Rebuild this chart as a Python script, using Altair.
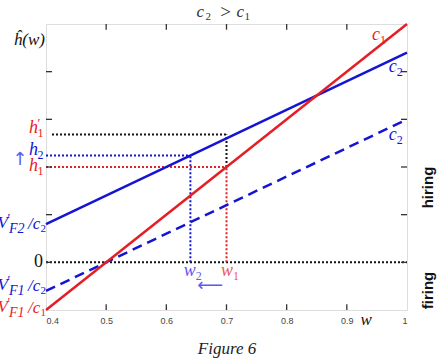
import altair as alt
import pandas as pd

# ---- data ----
w_ends = [0.4, 1.0]
c1_h = [-1.0, 5.0]          # red, cost c1
c2_h = [0.8, 4.4]           # blue solid, cost c2
c2_dash_h = [-0.6, 3.0]     # blue dashed, cost c2

w1, w2 = 0.70, 0.64
h1, h2, h1p = 2.0, 2.24, 2.68

x_ticks = [0.4, 0.5, 0.6, 0.7, 0.8, 0.9, 1.0]
inner_x_ticks = [0.5, 0.6, 0.7, 0.8, 0.9]
inner_y_ticks = [0, 1, 2, 3, 4]

RED = "#e51e25"
BLUE = "#1414d2"
LBLUE = "#5c5cf0"
LRED = "#f05a5a"
BLACK = "#111111"
SERIF = "Liberation Serif"
SANS = "Liberation Sans"

XS = alt.Scale(domain=[0.4, 1.0], nice=False, zero=False)
YS = alt.Scale(domain=[-1, 5], nice=False, zero=False)
XAX = alt.Axis(values=x_ticks, format="~g", domain=False, ticks=False, grid=False,
               labelFont=SANS, labelFontSize=9, labelColor="#444",
               labelPadding=6, title="Figure 6", titleFont=SERIF,
               titleFontStyle="italic", titleFontWeight="normal", titleFontSize=17,
               titleColor="#222", titlePadding=15)


def X(f):
    return alt.X(f, type="quantitative", scale=XS, axis=XAX)


def Y(f):
    return alt.Y(f, type="quantitative", scale=YS, axis=None)


def line(vals, color, dash=None):
    df = pd.DataFrame({"w": w_ends, "h": vals})
    kw = dict(color=color, strokeWidth=2.5)
    if dash:
        kw["strokeDash"] = dash
    return alt.Chart(df).mark_line(**kw).encode(x=X("w"), y=Y("h"))


def txt(texts, xs, ys, colors, dx=0, dy=0, size=16, align="left", italic=True,
        font=SERIF, angle=None, weight="normal"):
    df = pd.DataFrame({"t": texts, "x": xs, "y": ys, "c": colors})
    kw = dict(align=align, baseline="middle", dx=dx, dy=dy, fontSize=size, font=font,
              fontStyle="italic" if italic else "normal", fontWeight=weight)
    if angle is not None:
        kw["angle"] = angle
    return alt.Chart(df).mark_text(**kw).encode(
        x=X("x"), y=Y("y"), text="t:N", color=alt.Color("c:N", scale=None))


# dotted guide lines
guides = pd.DataFrame({
    "x":  [0.4, 0.41, w1, 0.4, w2, 0.4, w1],
    "x2": [1.0, w1, w1, w2, w2, w1, w1],
    "y":  [0, h1p, h1, h2, 0, h1, 0],
    "y2": [0, h1p, h1p, h2, h2, h1, h1],
    "c":  [BLACK, BLACK, BLACK, BLUE, BLUE, RED, RED],
})
guide_layer = alt.Chart(guides).mark_rule(strokeWidth=2, strokeDash=[2, 2]).encode(
    x=X("x"), x2="x2:Q", y=Y("y"), y2="y2:Q", color=alt.Color("c:N", scale=None))

# inner ticks on the frame
tk = []
for t in inner_x_ticks:
    tk.append((t, t, -1, -0.88))
    tk.append((t, t, 5, 4.88))
for t in inner_y_ticks:
    tk.append((0.4, 0.41, t, t))
    tk.append((1.0, 0.99, t, t))
ticks = pd.DataFrame(tk, columns=["x", "x2", "y", "y2"])
tick_layer = alt.Chart(ticks).mark_rule(color="#333", strokeWidth=1.3).encode(
    x=X("x"), x2="x2:Q", y=Y("y"), y2="y2:Q")

layers = [guide_layer,
          line(c2_dash_h, BLUE, [10, 6]),
          line(c2_h, BLUE),
          line(c1_h, RED),
          tick_layer]

# ---- title  c2 > c1 (above the plot, centred at w = 0.7) ----
title_x, title_y = 0.7, 5.0
TC = "#333333"
layers += [
    txt(["c"], [title_x], [title_y], [TC], dx=-30, dy=-12, size=17),
    txt(["2"], [title_x], [title_y], [TC], dx=-21, dy=-7, size=11, italic=False),
    txt([">"], [title_x], [title_y], [TC], dx=-1, dy=-12, size=19, italic=False, align="center"),
    txt(["c"], [title_x], [title_y], [TC], dx=10, dy=-12, size=17),
    txt(["1"], [title_x], [title_y], [TC], dx=18, dy=-7, size=11, italic=False),
]

# ---- left labels ----
layers += [
    txt(["ĥ(w)"], [0.4], [4.67], [BLACK], dx=-1, size=17, align="right"),
    txt(["0"], [0.4], [0.0], [BLACK], dx=-3, size=18, align="right", italic=False),
]
lh_y = [2.81, 2.35, 2.03]
lh_sub = ["1", "2", "1"]
lh_col = [RED, BLUE, RED]
layers += [
    txt(["h"] * 3, [0.4] * 3, lh_y, lh_col, dx=-8, size=18, align="right"),
    txt(lh_sub, [0.4] * 3, lh_y, lh_col, dx=-8.5, dy=5, size=12, italic=False),
    txt(["′"], [0.4], [lh_y[0]], [RED], dx=-8.5, dy=-5, size=13, italic=False),
]
# V'_F / c labels
v_y = [0.80, -0.50, -0.96]
v_fsub = ["F2", "F1", "F1"]
v_csub = ["2", "2", "1"]
v_col = [BLUE, BLUE, RED]
layers += [
    txt(["V"] * 3, [0.4] * 3, v_y, v_col, dx=-38, dy=-1, size=17, align="right"),
    txt(["′"] * 3, [0.4] * 3, v_y, v_col, dx=-38.5, dy=-6, size=13, italic=False),
    txt(v_fsub, [0.4] * 3, v_y, v_col, dx=-37, dy=5, size=14),
    txt(["/c"] * 3, [0.4] * 3, v_y, v_col, dx=-18, size=17),
    txt(v_csub, [0.4] * 3, v_y, v_col, dx=-5.5, dy=5, size=11, italic=False),
]

# ---- curve / point labels: letter + subscript ----
a_main = ["c", "c", "c", "w", "w"]
a_sub = ["1", "2", "2", "2", "1"]
a_x = [0.955, 0.983, 0.983, 0.649, 0.711]
a_y = [4.76, 4.09, 2.68, -0.19, -0.19]
a_col = [RED, BLUE, BLUE, LBLUE, LRED]
layers += [
    txt(a_main, a_x, a_y, a_col, size=18, align="right"),
    txt(a_sub, a_x, a_y, a_col, dy=5, size=12, italic=False),
]

# arrows and the w axis letter
layers += [
    txt(["⟵"], [0.673], [-0.50], [LBLUE], size=18, align="center", italic=False, font="DejaVu Sans"),
    txt(["↑"], [0.357], [2.14], [LBLUE], size=18, align="center", italic=False, font="DejaVu Sans"),
    txt(["w"], [0.932], [-1.22], [BLACK], size=17, align="center"),
]

# regime labels on the right
layers += [
    txt(["hiring", "firing"], [1.035, 1.035], [1.57, -0.59], [BLACK, BLACK], size=15,
        align="center", italic=False, font=SANS, angle=270, weight="bold"),
]

chart = alt.layer(*layers).properties(
    width=361, height=286,
    padding={"left": 46, "top": 24, "right": 36, "bottom": 52},
    autosize=alt.AutoSizeParams(type="none"),
).configure_view(stroke="#333", strokeWidth=1.5).configure(background="white")

chart.save("out.html", embed_options={"renderer": "svg", "actions": False})
